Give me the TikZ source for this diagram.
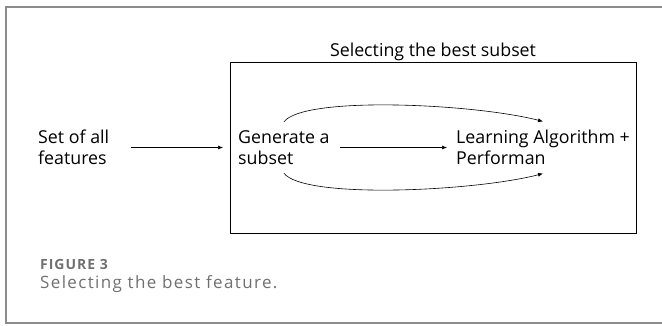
\documentclass[tikz,border=0pt]{standalone}
\usepackage{fontspec}
\setmainfont{Open Sans}
\usetikzlibrary{arrows.meta,positioning}
\definecolor{rimgray}{HTML}{8C8C8C}
\definecolor{capgray}{HTML}{707070}
\tikzset{
  txt/.style={align=left,inner xsep=2pt,inner ysep=8.5pt,font=\fontsize{17.8}{21}\selectfont},
  nyil/.style={-{Latex[length=5pt,width=4pt]},line width=0.6pt},
  dob/.style={draw,line width=1pt,anchor=north west,minimum width=406pt,minimum height=171pt},
  felirat/.style={anchor=base west,inner sep=0pt,text=capgray},
}
\begin{document}
\begin{tikzpicture}[x=1pt,y=-1pt]
  \useasboundingbox (0,0) rectangle (662,325);
  \draw[rimgray,line width=1.5pt] (663,7) -- (6,7) -- (6,323) -- (663,323);
  \node[dob] (sel) at (230,62) {};
  \node[txt,anchor=base] (title) at (433,56) {Selecting the best subset};
  % the three stages
  \node[txt,anchor=west] (all) at (36,147.5) {Set of all\\features};
  \node[txt,anchor=west] (gen) at (236,147.5) {Generate a\\subset};
  \node[txt,anchor=west] (learn) at (454,147.5) {Learning Algorithm +\\Performan};
  \draw[nyil,shorten <=20pt,shorten >=13pt] (all) -- (gen);
  \draw[nyil,shorten <=8pt,shorten >=7pt] (gen) -- (learn);
  \draw[nyil] (gen.north) .. controls +(20,-26) and +(-70,-18) .. (learn.north);
  \draw[nyil] (gen.south) .. controls +(20,26) and +(-70,18) .. (learn.south);
  % caption
  \node[felirat,font=\bfseries\fontsize{14}{16}\selectfont\addfontfeature{LetterSpace=7}] (fig) at (40,269) {FIGURE 3};
  \node[felirat,font=\fontsize{17}{20}\selectfont\addfontfeature{LetterSpace=8}] (cap) at (40,288) {Selecting the best feature.};
\end{tikzpicture}
\end{document}
